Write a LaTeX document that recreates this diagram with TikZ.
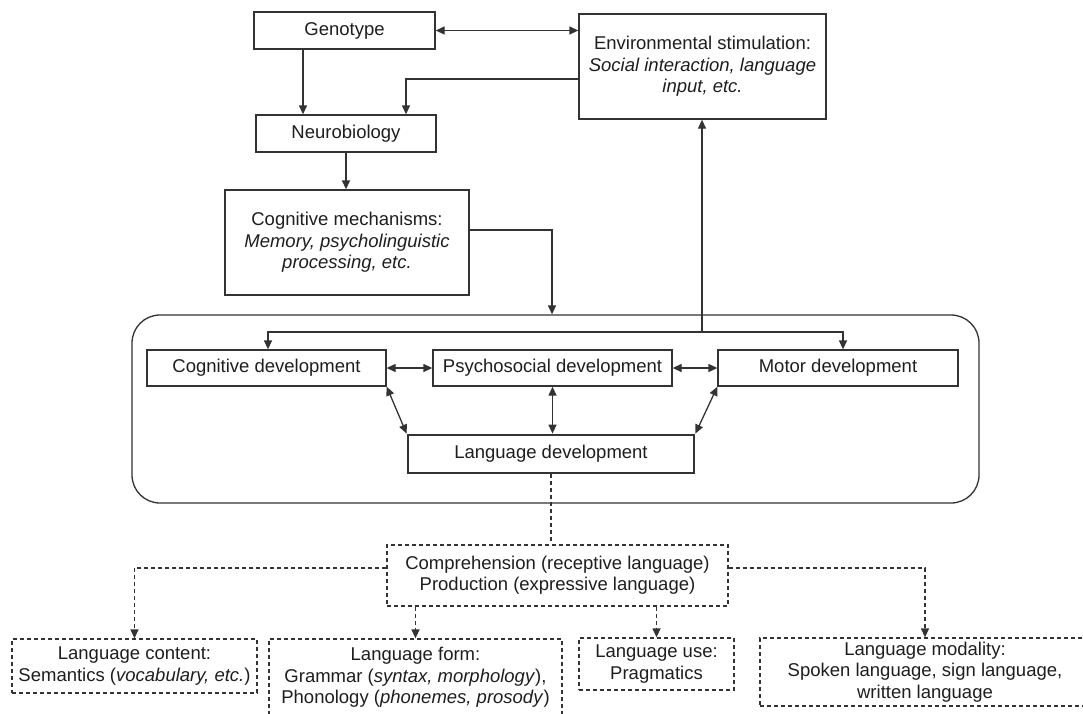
\documentclass[tikz,border=0pt]{standalone}
\usepackage{fontspec}
\setmainfont{Liberation Sans}
\usetikzlibrary{arrows.meta,calc}
\definecolor{ink}{HTML}{333333}
\definecolor{txt}{HTML}{1E1E1E}
\begin{document}
\begin{tikzpicture}[x=1pt,y=-1pt,
  box/.style={draw=ink, line width=1.3pt, inner sep=0pt, align=center, text=txt, font=\fontsize{18.5}{21.3}\selectfont},
  dbox/.style={box, dash pattern=on 4pt off 3pt},
  arr/.style={draw=ink, line width=1.3pt, -{Triangle[length=9pt,width=8pt]}},
  darr/.style={arr, dash pattern=on 4pt off 3pt},
  dline/.style={draw=ink, line width=1.3pt, dash pattern=on 4pt off 3pt},
  barr/.style={draw=ink, line width=1.3pt, {Triangle[length=9pt,width=8pt]}-{Triangle[length=9pt,width=8pt]}},
]
\useasboundingbox (0,0) rectangle (1083,713);
\fill[white] (0,0) rectangle (1083,713);

% top nodes
\node[box, minimum width=181pt, minimum height=37pt] (geno) at (344.5,30.5) {Genotype};
\node[box, minimum width=247pt, minimum height=105pt] (env) at (702.5,66.5) {Environmental stimulation:\\\textit{Social interaction, language}\\\textit{input, etc.}};
\node[box, minimum width=180pt, minimum height=37pt] (neuro) at (346,133.5) {Neurobiology};
\node[box, minimum width=244pt, minimum height=105pt] (cogm) at (347,242.5) {Cognitive mechanisms:\\\textit{Memory, psycholinguistic}\\\textit{processing, etc.}};

% big rounded box
\node[draw=ink, line width=1.3pt, rounded corners=28pt, minimum width=847pt, minimum height=188pt, inner sep=0pt] (big) at (555.5,409) {};

\node[box, minimum width=239pt, minimum height=36pt] (cogd) at (266.5,368) {Cognitive development};
\node[box, minimum width=239pt, minimum height=36pt] (psy) at (552.5,368) {Psychosocial development};
\node[box, minimum width=240pt, minimum height=36pt] (mot) at (838,368) {Motor development};
\node[box, line width=2.8pt, minimum width=286pt, minimum height=38pt] (lang) at (551,454) {Language development};

% bottom dashed nodes
\node[dbox, minimum width=341pt, minimum height=61pt] (comp) at (557.5,575.5) {Comprehension (receptive language)\\Production (expressive language)};
\node[dbox, minimum width=245pt, minimum height=54pt] (cont) at (134.5,666) {Language content:\\Semantics (\textit{vocabulary, etc.})};
\node[dbox, minimum width=293pt, minimum height=77pt] (form) at (415.5,677.5) {Language form:\\Grammar (\textit{syntax, morphology}),\\Phonology (\textit{phonemes, prosody})};
\node[dbox, minimum width=155pt, minimum height=52pt] (use) at (656.5,664) {Language use:\\Pragmatics};
\node[dbox, minimum width=330pt, minimum height=68pt] (mod) at (925,672) {Language modality:\\Spoken language, sign language,\\written language};

% connectors top
\coordinate (gx) at (303,0);
\coordinate (ey) at (406,79);
\coordinate (cy) at (552,230);
\draw[barr] (geno.east) -- (geno.east -| env.west);
\draw[arr] (geno.south -| gx) -- (neuro.north -| gx);
\draw[arr] (env.west |- ey) -| (neuro.north -| ey);
\draw[arr] (neuro.south) -- (neuro.south |- cogm.north);
\draw[arr] (cogm.east |- cy) -| (big.north -| cy);

% distribution inside big box
\coordinate (dl) at (268,332);
\coordinate (dr) at (843,332);
\coordinate (du) at (702,332);
\draw[arr] (du) -- (env.south -| du);
\draw[arr] (du) -| (cogd.north -| dl);
\draw[arr] (du) -| (mot.north -| dr);
\draw[barr] (cogd.east) -- (psy.west);
\draw[barr] (psy.east) -- (mot.west);
\draw[barr] (cogd.south east) -- (lang.north west);
\draw[barr] (psy.south) -- (psy.south |- lang.north);
\draw[barr] (mot.south west) -- (lang.north east);

% dashed connectors
\coordinate (hy) at (0,568);
\draw[dline] (lang.south) -- (lang.south |- comp.north);
\draw[darr] (comp.west |- hy) -| (cont.north);
\draw[darr] (comp.east |- hy) -| (mod.north);
\draw[darr] (comp.south -| form.north) -- (form.north);
\draw[darr] (comp.south -| use.north) -- (use.north);
\end{tikzpicture}
\end{document}
